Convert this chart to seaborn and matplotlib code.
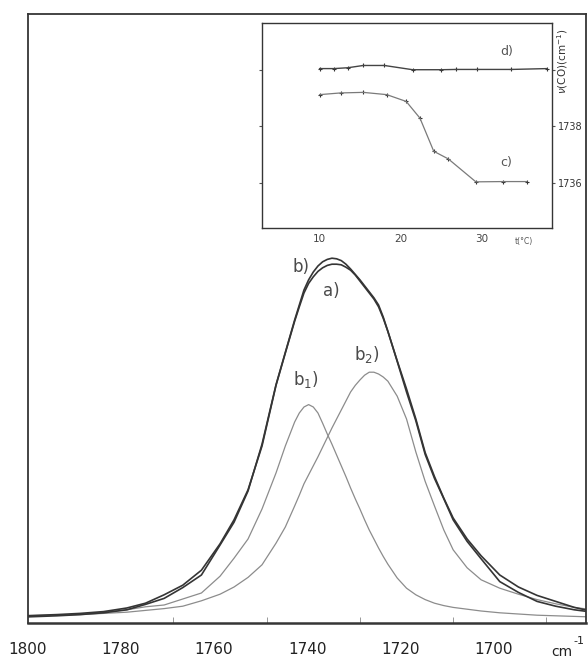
import matplotlib
matplotlib.use("Agg")
import matplotlib.pyplot as plt
import seaborn as sns
import pandas as pd
import matplotlib.transforms as mtrans

# ---------------- data ----------------
wavenumber = [1802, 1795, 1790, 1785, 1780, 1776, 1772, 1768, 1764, 1760,
              1757, 1754, 1751,
              1748, 1746, 1744, 1743, 1742, 1741, 1740, 1739, 1738, 1737,
              1736, 1735, 1734, 1733, 1732, 1731, 1730, 1729, 1728, 1727,
              1726, 1725, 1724,
              1722, 1720, 1718, 1716, 1714, 1712, 1710, 1707, 1704, 1700,
              1696, 1692, 1688, 1684, 1680]

# a) measured spectrum
spec_a = [0.012, 0.014, 0.016, 0.019, 0.025, 0.033, 0.047, 0.063, 0.088, 0.132,
          0.172, 0.222, 0.295,
          0.396, 0.450, 0.503, 0.527, 0.550, 0.566, 0.577, 0.586, 0.592, 0.596,
          0.598, 0.598, 0.597, 0.593, 0.588, 0.580, 0.570, 0.560, 0.550, 0.540,
          0.527, 0.508, 0.486,
          0.437, 0.390, 0.340, 0.284, 0.244, 0.208, 0.175, 0.140, 0.112, 0.080,
          0.060, 0.046, 0.036, 0.026, 0.019]
# b) fitted envelope
spec_b = [0.010, 0.012, 0.014, 0.017, 0.022, 0.031, 0.041, 0.059, 0.080, 0.130,
          0.168, 0.220, 0.298,
          0.397, 0.451, 0.505, 0.530, 0.555, 0.572, 0.585, 0.595, 0.602, 0.606,
          0.608, 0.607, 0.604, 0.598, 0.590, 0.581, 0.572, 0.562, 0.552, 0.542,
          0.530, 0.510, 0.486,
          0.436, 0.385, 0.337, 0.281, 0.241, 0.207, 0.172, 0.136, 0.107, 0.069,
          0.051, 0.036, 0.028, 0.022, 0.018]
# b1) component
spec_b1 = [0.011, 0.013, 0.015, 0.018, 0.022, 0.027, 0.030, 0.040, 0.050, 0.078,
           0.108, 0.140, 0.190,
           0.250, 0.295, 0.335, 0.350, 0.360, 0.364, 0.360, 0.350, 0.333, 0.315,
           0.298, 0.280, 0.262, 0.244, 0.225, 0.207, 0.190, 0.172, 0.155, 0.140,
           0.125, 0.111, 0.098,
           0.075, 0.058, 0.047, 0.039, 0.033, 0.029, 0.026, 0.023, 0.020, 0.017,
           0.015, 0.013, 0.012, 0.011, 0.010]
# b2) component
spec_b2 = [0.012, 0.013, 0.014, 0.016, 0.018, 0.021, 0.024, 0.028, 0.037, 0.048,
           0.060, 0.076, 0.097,
           0.133, 0.160, 0.195, 0.213, 0.232, 0.247, 0.262, 0.277, 0.293, 0.309,
           0.325, 0.340, 0.355, 0.370, 0.385, 0.396, 0.405, 0.413, 0.418, 0.418,
           0.415, 0.410, 0.403,
           0.378, 0.340, 0.285, 0.236, 0.195, 0.155, 0.122, 0.092, 0.072, 0.058,
           0.048, 0.039, 0.032, 0.026, 0.022]

xtick_labels = [1800, 1780, 1760, 1740, 1720, 1700]
xtick_minor = [1780, 1770, 1760, 1750, 1740, 1730, 1720, 1710, 1700, 1690]

# inset: band position vs temperature
temp_c = [10.0, 12.6, 15.4, 18.3, 20.7, 22.4, 24.1, 25.9, 29.3, 32.7, 35.6]
nu_c = [1739.12, 1739.18, 1739.20, 1739.12, 1738.88, 1738.29, 1737.12,
        1736.85, 1736.04, 1736.05, 1736.05]
temp_d = [10.0, 11.8, 13.5, 15.4, 18.0, 21.5, 25.0, 26.9, 29.4, 33.7, 38.1]
nu_d = [1740.04, 1740.04, 1740.07, 1740.15, 1740.15, 1740.00, 1740.00,
        1740.01, 1740.01, 1740.01, 1740.04]
inset_xticks = [10, 20, 30]
inset_yticks = [1736, 1738, 1740]
inset_ylabels = ["1736", "1738", ""]

# ---------------- styling ----------------
sns.set_theme(style="white")
plt.rcParams["font.family"] = ["DejaVu Sans"]
NARROW = ["DejaVu Sans Condensed", "Liberation Sans Narrow", "DejaVu Sans"]
DARK = "#353535"
LIGHT = "#8c8c8c"

W, H = 588, 662
fig = plt.figure(figsize=(W / 100, H / 100), dpi=100)
fig.patch.set_facecolor("white")

# main axes
ax = fig.add_axes([28 / W, 39 / H, 558 / W, 609 / H])
ax.set_facecolor("white")

df = pd.DataFrame({"wn": wavenumber, "a": spec_a, "b": spec_b,
                   "b1": spec_b1, "b2": spec_b2})
for col, color, lw in [("b1", LIGHT, 0.9), ("b2", LIGHT, 0.9),
                       ("a", DARK, 1.2), ("b", DARK, 1.2)]:
    sns.lineplot(data=df, x="wn", y=col, ax=ax, color=color, lw=lw,
                 estimator=None, sort=False)

ax.set_xlim(1801.2, 1681.5)
ax.set_ylim(0, 1.015)
ax.set_xlabel("")
ax.set_ylabel("")
ax.set_yticks([])
ax.set_xticks(xtick_labels)
ax.set_xticklabels([str(v) for v in xtick_labels])
ax.set_xticks(xtick_minor, minor=True)
ax.tick_params(axis="x", which="major", length=0, pad=14, labelsize=11,
               labelcolor="#222222")
ax.tick_params(axis="x", which="minor", direction="in", length=4, width=0.6,
               color="#888888", bottom=True)
shift = mtrans.ScaledTranslation(-6 / 100, 0, fig.dpi_scale_trans)
for lab in ax.get_xticklabels():
    lab.set_fontfamily(NARROW)
    lab.set_transform(lab.get_transform() + shift)
for s in ax.spines.values():
    s.set_color(DARK)
    s.set_linewidth(1.3)
ax.spines["bottom"].set_linewidth(1.8)

lab_kw = dict(ha="center", va="center", fontsize=12, color="#4a4a4a")
ax.text(1742.6, 0.593, "b)", **lab_kw)
ax.text(1736.1, 0.553, "a)", **lab_kw)
ax.text(1741.7, 0.405, r"b$_1$)", **lab_kw)
ax.text(1728.6, 0.447, r"b$_2$)", **lab_kw)

fig.text(562 / W, 1 - 652 / H, "cm", ha="center", va="center", fontsize=10,
         color="#222222", family=NARROW)
fig.text(579 / W, 1 - 641 / H, "-1", ha="center", va="center", fontsize=8,
         color="#222222", family=NARROW)

# inset axes
ins = fig.add_axes([262 / W, 434 / H, 290 / W, 205 / H])
ins.set_facecolor("white")
sns.lineplot(x=temp_d, y=nu_d, ax=ins, color="#444444", lw=1.0,
             estimator=None, sort=False)
sns.lineplot(x=temp_c, y=nu_c, ax=ins, color="#7a7a7a", lw=0.9,
             estimator=None, sort=False)
sns.scatterplot(x=temp_d, y=nu_d, ax=ins, marker="+", s=12, color="#333333",
                linewidth=0.8)
sns.scatterplot(x=temp_c, y=nu_c, ax=ins, marker="+", s=12, color="#333333",
                linewidth=0.8)
ins.set_xlim(2.9, 38.7)
ins.set_ylim(1734.41, 1741.65)
ins.set_xticks(inset_xticks)
ins.set_xticklabels([str(t) for t in inset_xticks])
ins.set_yticks(inset_yticks)
ins.set_yticklabels(inset_ylabels)
ins.tick_params(axis="x", length=0, pad=4, labelsize=7.5, labelcolor="#444444")
ins.tick_params(axis="y", left=True, right=True, labelleft=False,
                labelright=True, direction="out", length=2, width=0.8,
                color="#555555", labelsize=7, labelcolor="#333333", pad=2)
for lab in ins.get_yticklabels():
    lab.set_fontfamily(NARROW)
for s in ins.spines.values():
    s.set_color(DARK)
    s.set_linewidth(1.0)

ins.text(35.2, -0.045, "t(°C)", transform=mtrans.blended_transform_factory(
    ins.transData, ins.transAxes), ha="center", va="top", fontsize=5.5,
    color="#555555")
ins.text(1.035, 0.815, r"$\nu$(CO)(cm$^{-1}$)", transform=ins.transAxes,
         rotation=90, ha="center", va="center", fontsize=7.5, color="#333333")
ins.text(33.1, 1740.65, "d)", ha="center", va="center", fontsize=9,
         color="#555555")
ins.text(33.1, 1736.71, "c)", ha="center", va="center", fontsize=9,
         color="#555555")

fig.savefig("out.png", dpi=100, facecolor="white")
